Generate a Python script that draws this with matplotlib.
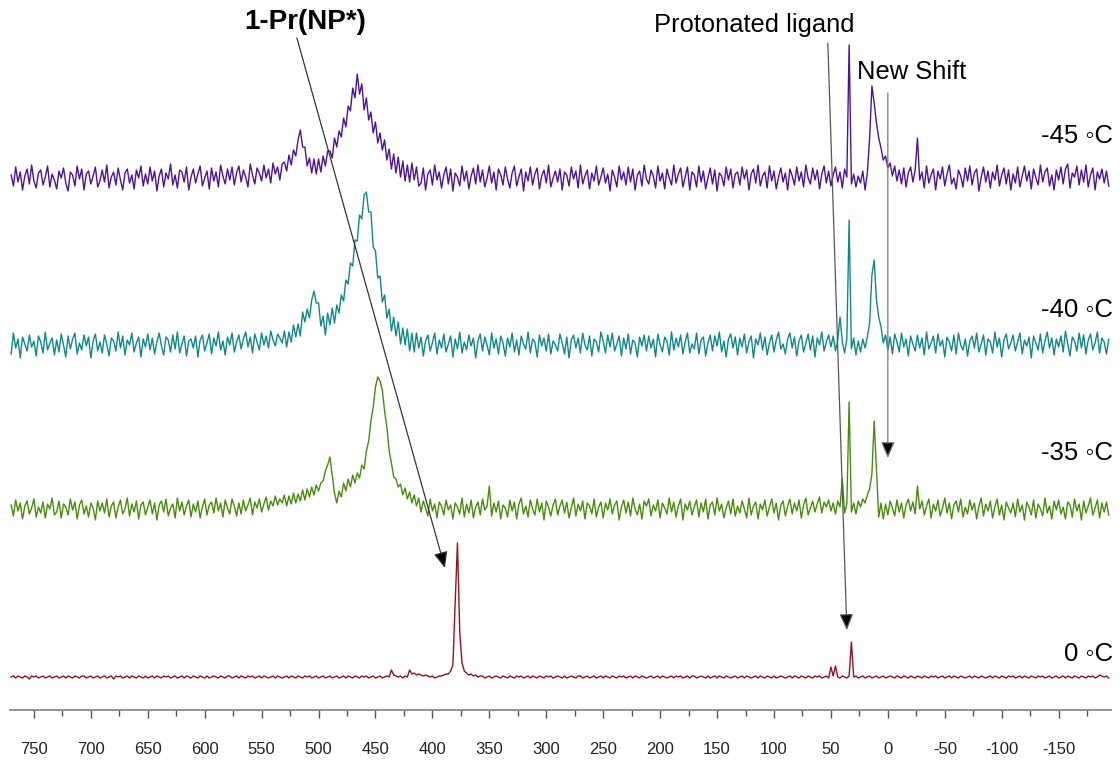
import matplotlib
matplotlib.use("Agg")
import matplotlib.pyplot as plt
import numpy as np

plt.rcParams['font.family'] = ['Liberation Sans', 'DejaVu Sans']
plt.rcParams['axes.unicode_minus'] = False

# spectra sampled every 2 ppm from 770 down to -194 ppm
# intensities in px above each trace's baseline (20 points per row)
trace_m45 = [
    3, -8, 11, -4, 6, -12, 2, 9, -6, 13, -3, -10, 5, 8, -7, 1, 12, -9, 4, -2,  # 770..732
    -11, 7, 0, 10, -5, -13, 6, 3, -8, 12, -1, 9, -12, 4, 7, -6, 2, 11, -9, -3,
    8, -4, 13, -10, 1, 6, -7, 10, -2, -12, 5, 9, -5, 3, -11, 8, 0, 12, -8, 4,
    -6, 11, -3, 7, -13, 2, 9, -9, 5, -1, 14, -7, 3, -10, 8, 6, -4, 11, -12, 1,
    9, -5, 4, 12, -8, 0, 7, -11, 10, -3, 6, -9, 13, 2, -6, 9, -2, 11, -7, 5,
    12, -4, 8, 1, -9, 14, 3, -6, 10, 5, -3, 13, 0, 9, -5, 15, 4, 11, -2, 14,  # 570..532
    16, 7, 23, 13, 28, 22, 38, 48, 31, 31, 12, 20, 5, 19, 4, 19, 6, 22, 12, 27,  # 530..492
    27, 20, 40, 31, 47, 41, 60, 51, 72, 67, 90, 80, 104, 84, 94, 68, 80, 58, 66, 45,  # 490..452
    56, 35, 45, 28, 38, 18, 29, 9, 24, 5, 21, 1, 17, -3, 13, -4, 15, -2, 11, -8,  # 450..412
    -5, 10, -12, 4, 8, -7, 13, -2, 6, -10, 3, 11, -6, 9, -13, 5, 1, -8, 12, -3,
    7, -11, 2, 10, -6, 13, -4, 8, -9, 0, 12, -5, 6, -12, 9, 3, -7, 11, -1, -10,
    5, 12, -8, 1, 9, -13, 6, -3, 11, -7, 4, 10, -11, 2, 8, -5, 13, -9, 0, 7,
    -4, 9, -12, 6, 3, -8, 11, -1, 7, -10, 13, -6, 2, 8, -11, 5, -3, 12, -7, 1,
    10, -5, 4, -13, 8, 1, -9, 12, -2, 6, -7, 11, -4, 9, -12, 3, 7, -8, 13, -1,
    -6, 8, 2, -10, 12, -3, 5, -11, 9, 0, -7, 13, -5, 4, 10, -9, 1, 11, -12, 6,
    3, -9, 12, -4, 7, -11, 0, 10, -6, 8, -13, 5, 2, -8, 11, -2, 9, -10, 4, 6,
    -7, 11, -1, 8, -12, 4, 9, -5, 13, -8, 2, 6, -10, 12, -3, 7, -11, 1, 10, -4,
    5, -12, 9, 2, -7, 11, -3, 6, -9, 13, 0, -6, 10, -2, 8, -11, 4, 12, -5, 7,
    -8, 3, 11, -4, 6, -10, 9, 1, 133, -6, 4, -9, 2, -5, 7, -12, 5, 40, 92, 75,  # 50..12
    55, 40, 30, 18, 22, 10, 15, 2, 12, -3, 8, -6, 10, -9, 5, 11, -4, 8, 40, -2,  # 10..-28
    6, -10, 12, -5, 3, 9, -12, 7, -1, 11, -8, 4, 13, -6, 0, -11, 8, 2, -9, 10,
    -3, 12, -7, 5, 9, -13, 1, 11, -4, 7, -10, 6, -2, 13, -8, 3, 10, -6, 8, -12,
    4, -5, 11, -9, 2, 12, -3, 7, -11, 9, 0, -7, 13, -4, 6, 10, -8, 3, -12, 8,
    -2, 11, -6, 9, 14, -10, 5, 1, 12, -7, 8, -4, 13, -9, 3, 10, -12, 6, -1, 9,
    -5, 7, -8,
]

trace_m40 = [
    -9, 12, -3, 6, -13, 8, 1, -6, 10, -2, 4, -11, 9, 3, -8, 13, -5, 2, 7, -10,
    5, -7, 11, 0, -12, 9, -4, 6, 12, -9, 2, -5, 10, -1, 8, -13, 4, 11, -6, 3,
    -8, 10, 1, -11, 7, 4, -6, 13, -3, 9, -10, 5, 0, 12, -7, 2, 8, -12, 6, -2,
    11, -5, 7, -9, 3, 12, -1, -10, 8, 5, -7, 10, -4, 13, -8, 1, 9, -11, 4, 6,
    -3, 9, -12, 5, 10, -6, 2, 11, -9, 7, -1, 13, -5, 4, -10, 8, 0, 12, -7, 3,
    10, -4, 6, 13, -2, 8, -8, 11, 3, -5, 12, 0, 9, -3, 14, 5, -1, 11, 7, 2,
    14, -2, 13, 3, 20, 8, 21, 9, 33, 23, 36, 27, 45, 54, 42, 42, 19, 29, 10, 32,  # 530..492
    20, 37, 22, 40, 32, 50, 44, 65, 61, 82, 79, 105, 104, 130, 126, 150, 153, 133, 133, 98,
    94, 67, 69, 43, 50, 27, 36, 14, 28, 9, 23, 1, 17, 0, 16, -6, 12, -7, 12, -3,
    8, -11, 4, 10, -6, 2, 12, -9, 5, -3, 11, -7, 1, 9, -12, 6, -4, 13, -8, 3,
    -5, 10, -1, 7, -13, 4, 11, -6, 8, 0, -10, 12, -3, 6, -9, 9, 2, -11, 7, -2,
    12, -7, 5, -10, 9, 1, -4, 13, -8, 6, 3, -12, 10, -1, 7, -6, 11, -9, 4, 0,
    -6, 11, 2, -9, 8, -13, 5, 10, -3, 7, -8, 12, 0, -5, 9, -11, 6, 3, -7, 13,
    4, -8, 10, -2, 12, -6, 1, 9, -11, 7, -4, 11, -9, 5, 2, -12, 8, -1, 10, -6,
    9, -3, 6, -12, 11, 0, -7, 8, 4, -10, 13, -5, 7, -2, 10, -9, 3, 12, -8, 1,
    -4, 12, -9, 5, 8, -11, 2, 10, -6, 9, -1, 13, -7, 4, -12, 6, 11, -3, 8, -10,
    7, -2, 11, -8, 3, 9, -13, 6, 0, 12, -5, 8, -10, 2, 10, -7, 5, 13, -4, 1,
    -9, 6, 12, -3, 8, -11, 4, 10, -7, 2, 11, -5, 9, -12, 7, 0, 13, -6, 3, 10,
    -2, 9, -6, 5, 28, 3, -8, 6, 125, -4, 7, -10, 4, -7, 6, -3, 8, 22, 70, 85,  # 50..12
    45, 28, 18, 2, 10, -5, 8, -9, 11, 3, -7, 12, -2, 6, -11, 9, 1, -6, 10, -3,
    7, -10, 13, -4, 2, 9, -8, 11, -1, 5, -12, 8, 3, -6, 10, -9, 12, 0, -5, 6,
    -11, 4, 9, -3, 12, -7, 1, 10, -10, 6, 3, -8, 13, -2, 7, -12, 5, 11, -4, 2,
    10, -6, 3, 12, -9, 5, -1, 8, -13, 9, 2, -5, 11, -8, 4, 13, -3, 7, -10, 6,
    -2, 9, -7, 14, 1, -11, 8, 4, -6, 12, -3, 10, -9, 5, 11, -5, 2, 13, -8, 7,
    3, -9, 6,
]

trace_m35 = [
    4, -7, 9, -2, 6, -10, 3, 8, -5, 1, 10, -8, 2, -4, 7, -9, 5, 0, 11, -6,
    -3, 8, -9, 5, 2, -6, 10, -1, 7, -10, 4, 9, -5, 3, -8, 6, 1, -11, 8, -2,
    6, -4, 10, -8, 3, 7, -9, 2, 9, -5, 0, 11, -7, 5, -3, 8, -10, 4, 7, -6,
    2, 9, -5, 6, -11, 4, 8, -3, 10, -7, 1, 5, -9, 11, -2, 7, -6, 3, 9, -8,
    5, -3, 8, -9, 2, 10, -6, 4, 7, -4, 11, -2, 6, -8, 9, 1, -5, 10, 3, -7,
    6, -5, 9, -2, 4, 11, -6, 7, 1, 10, -3, 5, 12, -1, 8, 3, 13, 4, 10, 6,
    14, 3, 13, 5, 16, 6, 15, 8, 19, 9, 20, 12, 22, 14, 24, 18, 26, 28, 38, 44,  # 530..492
    52, 34, 16, 6, 18, 12, 26, 18, 30, 22, 34, 26, 36, 31, 44, 40, 58, 68, 88, 102,
    122, 132, 128, 119, 98, 82, 58, 46, 32, 30, 22, 25, 14, 21, 10, 17, 6, 14, 3, 11,
    -3, 8, 1, -7, 10, -2, 5, -9, 7, 3, -6, 9, -1, 4, -10, 6, 2, -5, 11, -8,
    5, -4, 9, -9, 2, 7, -6, 10, -1, 3, 23, -7, 6, -3, 8, -10, 4, 1, -8, 9,
    -2, 7, -10, 5, 11, -5, 3, -8, 9, 0, -6, 10, -3, 6, -11, 8, 2, -7, 4, 10,
    -6, 3, 9, -4, 7, -9, 1, 11, -7, 5, -2, 8, -10, 6, 3, -5, 10, -8, 2, 7,
    -9, 6, -1, 10, -5, 4, 8, -11, 2, 9, -4, 7, -7, 11, 0, -6, 5, -10, 8, 3,
    10, -7, 4, -2, 9, -9, 6, 1, -5, 11, -3, 7, -8, 3, 10, -11, 5, -1, 8, -6,
    2, 9, -8, 6, -3, 10, -10, 4, 7, -6, 11, -2, 5, -9, 1, 8, -5, 10, -7, 3,
    -4, 8, 0, -9, 11, -6, 3, 7, -10, 5, -1, 9, -7, 2, 10, -4, 6, -11, 4, 8,
    -7, 3, 10, -5, 6, -2, 9, -9, 4, 11, -6, 1, 8, -3, 5, 12, -4, 7, 2, 9,
    -2, 6, -5, 8, 2, 30, -4, 5, 107, -3, 6, -5, 8, 2, 10, 6, 14, 20, 35, 88,  # 50..12
    40, -8, 6, -10, 5, -6, 8, 1, -7, 9, -3, 6, -9, 4, 10, -2, 7, -5, 23, 0,
    8, -6, 3, 10, -9, 5, -2, 9, -7, 1, 11, -4, 6, -10, 4, 8, -3, 10, -8, 2,
    -5, 9, -1, 6, -10, 3, 11, -7, 5, -2, 8, -9, 2, 10, -6, 4, -11, 7, 1, -4,
    6, -8, 10, -3, 4, -11, 7, 2, -6, 9, -9, 5, 0, -7, 11, -4, 3, -10, 8, -1,
    9, -5, 2, -10, 7, 4, -8, 10, -2, 5, -11, 8, -4, 3, 11, -6, 1, 9, -9, 6,
    -3, 7, -6,
]

trace_0 = [
    0, 1, -1, 1, 0, -1, 1, 0, -2, 1, 0, 1, -1, 0, 1, -1, 0, 1, -1, 0,
    1, -1, 0, 1, -1, 1, 0, -1, 1, 0, -1, 1, 1, -1, 0, 1, -1, 0, 1, -1,
    0, 1, -1, 0, 1, -2, 1, 0, 1, -1, 0, 1, -1, 1, 0, -1, 1, 0, -1, 1,
    -1, 0, 1, -1, 1, 0, -1, 1, 0, 1, -1, 0, 1, -1, 0, 1, -1, 1, 0, -1,
    1, 0, -1, 1, 0, -1, 1, -1, 0, 1, 0, -1, 1, 0, -1, 1, 1, -1, 0, 1,
    -1, 1, 0, -1, 1, 0, 1, -1, 0, 1, -1, 1, 0, -1, 0, 1, -1, 1, 0, -1,
    0, 1, -1, 1, 0, -1, 1, 0, -1, 1, 0, 1, -1, 0, 1, -1, 0, 1, -1, 0,
    1, -1, 0, 1, -1, 0, 1, -1, 1, 0, -1, 1, 0, -1, 1, 0, 1, -1, 0, 1,
    -1, 0, 1, -1, 0, 1, 0, 7, 2, 1, 0, 1, -1, 1, 0, 7, 3, 4, 2, 3,  # 450..412
    2, 1, 2, 1, 0, 1, -1, 0, 1, 1, 2, 3, 3, 6, 12, 75, 134, 45, 14, 6,  # 410..372
    4, 2, 3, 1, 2, 0, 1, 1, -1, 0, 1, -1, 0, 1, 0, -1, 1, 0, -1, 1,
    0, -1, 1, 0, 1, -1, 0, 1, -1, 1, 0, -1, 1, 0, -1, 1, 0, 1, -1, 0,
    1, 0, -1, 1, -1, 0, 1, 0, -1, 1, 1, -1, 0, 1, -1, 0, 1, -1, 0, 1,
    -1, 1, 0, -1, 1, 0, -1, 1, 0, 1, -1, 0, 1, -1, 1, 0, -1, 1, 0, -1,
    0, 1, -1, 0, 1, -1, 1, 0, -1, 0, 1, -1, 1, 0, 1, -1, 0, 1, -1, 1,
    1, -1, 0, 1, 0, -1, 1, -1, 0, 1, -1, 1, 0, -1, 1, 0, -1, 0, 1, -1,
    0, 1, -1, 1, 0, -1, 0, 1, -1, 1, 0, -1, 1, 0, -1, 1, -1, 0, 1, 0,
    -1, 0, 1, -1, 1, 0, -1, 1, 0, -1, 1, 0, -1, 1, 0, 1, -1, 0, 1, -1,
    10, 1, 11, 0, -1, 1, 0, -1, 1, 35, 0, 1, -1, 0, 1, -1, 0, 1, -1, 0,  # 50..12
    1, -1, 0, 1, -1, 0, 1, 0, -1, 1, 0, -1, 1, 0, -1, 1, 0, -1, 1, 0,
    -1, 1, 0, -1, 1, 0, 1, -1, 0, 1, -1, 0, 1, -1, 1, 0, -1, 1, 0, -1,
    0, 1, -1, 1, 0, -1, 1, 0, -1, 0, 1, -1, 1, 0, -1, 1, 0, -1, 1, 0,
    1, -1, 0, 1, -1, 1, 0, -1, 1, 0, -1, 1, 0, 1, -1, 0, 1, -1, 0, 1,
    -1, 0, 1, -1, 1, 0, -1, 1, 0, -1, 1, 0, -1, 1, 0, 1, -1, 0, 2, 1,
    0, 1, -1,
]

traces = [trace_m45, trace_m40, trace_m35, trace_0]
temp_labels = ['-45 \u25e6C', '-40 \u25e6C', '-35 \u25e6C', '0 \u25e6C']
colors = ['#4b1493', '#128787', '#4a8a0e', '#8e1420']
baselines = [532, 365, 201, 33]
label_y = [574, 400, 257, 56]

fig = plt.figure(figsize=(11.2, 7.69), dpi=100)
ax = fig.add_axes([10 / 1120, 59 / 769, 1101 / 1120, 710 / 769])

for tr, col, base in zip(traces, colors, baselines):
    y = np.array(tr, dtype=float)
    ppm = np.linspace(770, -194, len(y))
    ax.plot(ppm, y + base, color=col, lw=1.0, zorder=2)

for lab, ly in zip(temp_labels, label_y):
    ax.text(1.0018, ly, lab, transform=ax.get_yaxis_transform(), ha='right',
            va='center', fontsize=18.5, color='black', clip_on=False)

# annotations
ax.text(512, 688, '1-Pr(NP*)', fontsize=20, fontweight='bold', ha='center', va='center')
ax.text(117, 685, 'Protonated ligand', fontsize=18.4, ha='center', va='center')
ax.text(-21, 638, 'New Shift', fontsize=18.4, ha='center', va='center')

arrows = [((519, 672), (389, 142), '#333333'),
          ((52.7, 667), (36, 80), '#555555'),
          ((0, 617), (0, 252), '#777777')]
for start, end, lc in arrows:
    ax.annotate('', xy=end, xytext=start,
                arrowprops=dict(arrowstyle='-|>,head_length=0.7,head_width=0.3',
                                lw=0.9, mutation_scale=14,
                                shrinkA=0, shrinkB=0, fc='black', ec=lc),
                zorder=3)

ax.set_xlim(771, -196)
ax.set_ylim(0, 710)
for s in ['left', 'right', 'top']:
    ax.spines[s].set_visible(False)
ax.spines['bottom'].set_color('#8a8a8a')
ax.spines['bottom'].set_linewidth(1.3)
ax.set_yticks([])
ax.set_xticks(np.arange(750, -151, -50))
ax.set_xticks(np.arange(750, -180, -25), minor=True)
ax.tick_params(axis='x', which='major', length=6, width=1, color='#555555',
               labelsize=12, pad=17, labelcolor='#222222')
ax.tick_params(axis='x', which='minor', length=4, width=1, color='#555555')

fig.savefig('out.png', dpi=100)
